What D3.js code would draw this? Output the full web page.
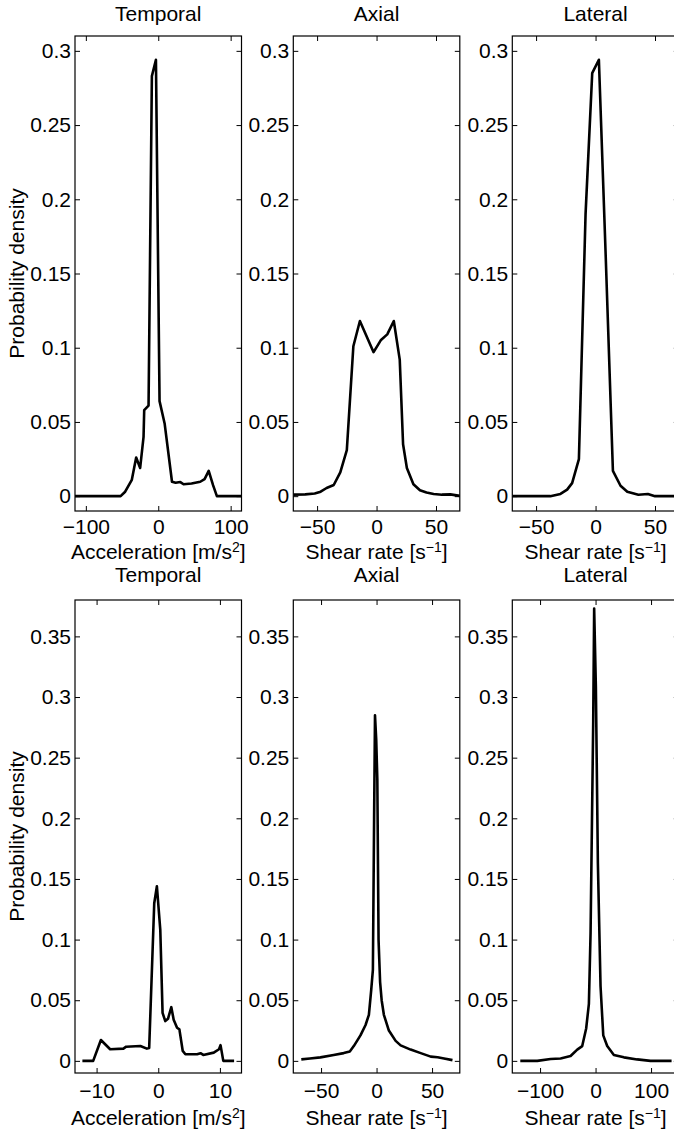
<!DOCTYPE html>
<html>
<head>
<meta charset="utf-8">
<script src="https://d3js.org/d3.v7.min.js"></script>
<style>
  body { margin: 0; background: #fff; }
  svg text { font-family: "Liberation Sans", Arial, Helvetica, sans-serif; fill: #000; }
</style>
</head>
<body>
<div id="chart"></div>
<script>
// ---- data ----
const titles = ["Temporal", "Axial", "Lateral"];

// top row
const tempTopX = [-115, -52, -45.7, -36.5, -30.5, -25, -20.3, -19.4, -13.4, -8.8, -3.2, 1.8, 8.8, 19, 24, 30.5, 35, 46, 58, 64, 69.7, 75.7, 81, 115];
const tempTopY = [0, 0, 0.003, 0.011, 0.026, 0.019, 0.040, 0.058, 0.061, 0.283, 0.294, 0.064, 0.049, 0.0097, 0.009, 0.0095, 0.008, 0.0085, 0.0097, 0.0115, 0.017, 0.0074, 0, 0];

const axTopX = [-70, -60, -52, -47, -42, -36, -30.5, -25, -19.5, -14, -2.5, 3.5, 9, 14.5, 19.5, 22.3, 25.5, 31, 36.5, 42, 48, 55, 62, 70];
const axTopY = [0.001, 0.0012, 0.0018, 0.003, 0.0055, 0.0075, 0.016, 0.031, 0.101, 0.118, 0.097, 0.105, 0.109, 0.118, 0.092, 0.035, 0.019, 0.008, 0.004, 0.0025, 0.0015, 0.001, 0.0012, 0.0002];

const latTopX = [-70, -38, -29.5, -23.9, -19.7, -14, -8.4, -2.8, 2.8, 8.4, 14.6, 21, 26.7, 36, 44, 50, 70];
const latTopY = [0, 0, 0.0015, 0.0044, 0.0088, 0.025, 0.19, 0.285, 0.294, 0.165, 0.017, 0.007, 0.003, 0.001, 0.0015, 0, 0];

// bottom row
const tempBotX = [-12.3, -10.55, -9.3, -7.8, -5.65, -5.2, -2.9, -1.85, -1.47, -0.65, -0.22, 0.33, 0.70, 1.14, 1.58, 2.12, 2.5, 3.05, 3.43, 3.97, 4.4, 6.3, 6.85, 7.3, 9.0, 9.85, 10.1, 10.55, 12.3];
const tempBotY = [0, 0, 0.0172, 0.0096, 0.0101, 0.0117, 0.0123, 0.0101, 0.0107, 0.13, 0.144, 0.108, 0.0396, 0.0328, 0.0347, 0.0443, 0.034, 0.0273, 0.026, 0.0082, 0.0055, 0.0055, 0.0063, 0.0049, 0.0068, 0.0096, 0.013, 0, 0];

const axBotX = [-67.8, -60, -50.6, -38.6, -29.6, -24.1, -20.5, -14.5, -9.9, -6.9, -4.8, -3.3, -2.2, -1.4, -0.3, 0.7, 1.8, 3.2, 4.6, 6.6, 11.1, 17.2, 21.7, 30.7, 39.8, 48.8, 55, 60.8, 68.4];
const axBotY = [0.0012, 0.002, 0.0029, 0.0049, 0.0064, 0.0078, 0.0122, 0.021, 0.0296, 0.038, 0.0586, 0.075, 0.2, 0.285, 0.265, 0.232, 0.1, 0.065, 0.05, 0.038, 0.025, 0.0165, 0.0128, 0.0093, 0.0064, 0.0035, 0.003, 0.002, 0.0006];

const latBotX = [-135.6, -105, -81, -63, -45, -33, -24, -16.9, -12, -9, -4.2, -2.5, 0.6, 4.2, 9, 13.9, 21, 33, 51, 75, 99, 137];
const latBotY = [0, 0, 0.0015, 0.002, 0.004, 0.0093, 0.0122, 0.0267, 0.047, 0.105, 0.28, 0.373, 0.308, 0.163, 0.0615, 0.021, 0.0122, 0.0049, 0.0029, 0.0012, 0, 0];

// axis ranges and ticks
const xDomains = [[-115, 115], [-70, 70], [-70, 70], [-13.5, 13.5], [-75, 75], [-150, 150]];
const xTickVals = [[-100, 0, 100], [-50, 0, 50], [-50, 0, 50], [-10, 0, 10], [-50, 0, 50], [-100, 0, 100]];
const yDomainTop = [-0.01, 0.31];
const yDomainBot = [-0.01, 0.38];
const yTicksTop = [0, 0.05, 0.1, 0.15, 0.2, 0.25, 0.3];
const yTicksBot = [0, 0.05, 0.1, 0.15, 0.2, 0.25, 0.3, 0.35];

const seriesX = [tempTopX, axTopX, latTopX, tempBotX, axBotX, latBotX];
const seriesY = [tempTopY, axTopY, latTopY, tempBotY, axBotY, latBotY];

// ---- layout ----
const width = 674, height = 1134;
const colLeft = [75, 293.3, 512.3];
const panelW = 166.5;
const rows = [
  { top: 36, bottom: 511, titleY: 21, tickPad: 8, labelY: 559, yDomain: yDomainTop, yTicks: yTicksTop },
  { top: 600, bottom: 1073, titleY: 582, tickPad: 10, labelY: 1125, yDomain: yDomainBot, yTicks: yTicksBot }
];
const fontSize = 21;

const svg = d3.select("#chart").append("svg")
  .attr("width", width)
  .attr("height", height);

svg.append("rect").attr("width", width).attr("height", height).attr("fill", "#fff");

const fmtX = d => d < 0 ? "\u2212" + Math.abs(d) : String(d);
const fmtY = d => String(+d.toFixed(2));

for (let i = 0; i < 6; i++) {
  const r = rows[Math.floor(i / 3)];
  const c = i % 3;
  const x0 = colLeft[c];
  const ph = r.bottom - r.top;

  const x = d3.scaleLinear().domain(xDomains[i]).range([0, panelW]);
  const y = d3.scaleLinear().domain(r.yDomain).range([ph, 0]);

  const g = svg.append("g").attr("transform", `translate(${x0},${r.top})`);

  g.append("clipPath").attr("id", "clip" + i)
    .append("rect").attr("width", panelW).attr("height", ph);

  // bottom axis with labels, inward ticks
  const gb = g.append("g")
    .attr("transform", `translate(0,${ph})`)
    .call(d3.axisBottom(x).tickValues(xTickVals[i]).tickFormat(fmtX)
      .tickSizeInner(-5).tickSizeOuter(0).tickPadding(r.tickPad));
  // top axis, ticks only
  const gt = g.append("g")
    .call(d3.axisTop(x).tickValues(xTickVals[i]).tickFormat("")
      .tickSizeInner(-5).tickSizeOuter(0));
  // left axis with labels
  const gl = g.append("g")
    .call(d3.axisLeft(y).tickValues(r.yTicks).tickFormat(fmtY)
      .tickSizeInner(-5).tickSizeOuter(0).tickPadding(4));
  // right axis, ticks only
  const gr = g.append("g")
    .attr("transform", `translate(${panelW},0)`)
    .call(d3.axisRight(y).tickValues(r.yTicks).tickFormat("")
      .tickSizeInner(-5).tickSizeOuter(0));

  [gb, gt, gl, gr].forEach(a => {
    a.select(".domain").remove();
    a.selectAll("line").attr("stroke", "#000").attr("stroke-width", 1);
    a.selectAll("text").attr("font-size", fontSize).attr("fill", "#000")
      .style("font-family", '"Liberation Sans", Arial, Helvetica, sans-serif');
  });

  // box
  g.append("rect")
    .attr("width", panelW).attr("height", ph)
    .attr("fill", "none").attr("stroke", "#000").attr("stroke-width", 1.2);

  // curve
  const pts = seriesX[i].map((v, k) => [v, seriesY[i][k]]);
  g.append("path")
    .datum(pts)
    .attr("clip-path", `url(#clip${i})`)
    .attr("fill", "none")
    .attr("stroke", "#000")
    .attr("stroke-width", 2.6)
    .attr("stroke-linejoin", "round")
    .attr("d", d3.line().x(d => x(d[0])).y(d => y(d[1])));

  // title
  svg.append("text")
    .attr("x", x0 + panelW / 2).attr("y", r.titleY)
    .attr("text-anchor", "middle").attr("font-size", fontSize)
    .text(titles[c]);

  // x label
  const lab = svg.append("text")
    .attr("x", x0 + panelW / 2).attr("y", r.labelY)
    .attr("text-anchor", "middle").attr("font-size", fontSize);
  if (c === 0) {
    lab.append("tspan").text("Acceleration [m/s");
    lab.append("tspan").attr("dy", -7).attr("font-size", 14).text("2");
    lab.append("tspan").attr("dy", 7).text("]");
  } else {
    lab.append("tspan").text("Shear rate [s");
    lab.append("tspan").attr("dy", -7).attr("font-size", 14).text("\u22121");
    lab.append("tspan").attr("dy", 7).text("]");
  }

  // y label on the first column only
  if (c === 0) {
    const cy = r.top + ph / 2;
    svg.append("text")
      .attr("transform", `translate(24,${cy}) rotate(-90)`)
      .attr("text-anchor", "middle").attr("font-size", fontSize)
      .text("Probability density");
  }
}
</script>
</body>
</html>
